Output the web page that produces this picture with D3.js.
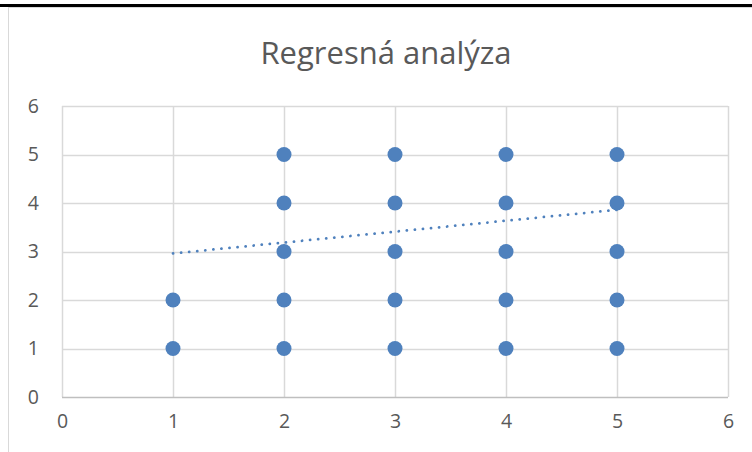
<!DOCTYPE html>
<html><head><meta charset="utf-8">
<script src="https://cdn.jsdelivr.net/npm/d3@7"></script>
<style>body{margin:0;background:#fff;overflow:hidden}svg{display:block}text{font-family:"Open Sans",Lato,sans-serif}</style>
</head><body>
<script>
const title = "Regresná analýza";
const xValues = [1,1, 2,2,2,2,2, 3,3,3,3,3, 4,4,4,4,4, 5,5,5,5,5];
const yValues = [1,2, 1,2,3,4,5, 1,2,3,4,5, 1,2,3,4,5, 1,2,3,4,5];
const trendX = [1, 5];
const trendY = [2.96, 3.86];
const xTicks = [0,1,2,3,4,5,6];
const yTicks = [0,1,2,3,4,5,6];

const W = 752, H = 452;
const svg = d3.select("body").append("svg").attr("width", W).attr("height", H);
const x = d3.scaleLinear().domain([0,6]).range([62,728]);
const y = d3.scaleLinear().domain([0,6]).range([397,106]);

// top black rule and chart frame
svg.append("rect").attr("x",0).attr("y",4).attr("width",W).attr("height",3).attr("fill","#000");
svg.append("line").attr("x1",8.5).attr("x2",8.5).attr("y1",7).attr("y2",H).attr("stroke","#d9d9d9").attr("stroke-width",1);
svg.append("line").attr("x1",8).attr("x2",W).attr("y1",7.5).attr("y2",7.5).attr("stroke","#d9d9d9").attr("stroke-width",1);

// gridlines
const g = svg.append("g");
g.selectAll(".vg").data(xTicks).join("line")
  .attr("x1",d=>Math.round(x(d))+0.5).attr("x2",d=>Math.round(x(d))+0.5)
  .attr("y1",y(6)).attr("y2",y(0)).attr("stroke","#d9d9d9").attr("stroke-width",1.5);
g.selectAll(".hg").data(yTicks).join("line")
  .attr("x1",x(0)).attr("x2",x(6))
  .attr("y1",d=>Math.round(y(d))+0.5).attr("y2",d=>Math.round(y(d))+0.5)
  .attr("stroke",d=>d===0?"#bfbfbf":"#d9d9d9").attr("stroke-width",1.5);

// axes labels
const xAxis = d3.axisBottom(x).tickValues(xTicks).tickFormat(d3.format("d")).tickSize(0).tickPadding(0);
svg.append("g").attr("transform","translate(0,414)").call(xAxis)
  .call(s=>{s.select(".domain").remove(); s.selectAll("text").attr("font-size",19.5).attr("fill","#595959").attr("dy","0.71em").attr("font-family","'Open Sans',sans-serif");});
const yAxis = d3.axisLeft(y).tickValues(yTicks).tickFormat(d3.format("d")).tickSize(0).tickPadding(0);
svg.append("g").attr("transform","translate(39,0)").call(yAxis)
  .call(s=>{s.select(".domain").remove(); s.selectAll("text").attr("font-size",19.5).attr("fill","#595959").attr("font-family","'Open Sans',sans-serif");});

// title
svg.append("text").attr("x",386).attr("y",64).attr("text-anchor","middle")
  .attr("font-size",31).attr("fill","#595959").text(title);

// points
svg.append("g").selectAll("circle").data(xValues.map((v,i)=>[v,yValues[i]])).join("circle")
  .attr("cx",d=>x(d[0])).attr("cy",d=>y(d[1])).attr("r",7.5).attr("fill","#4f81bd");

// trendline
const line = d3.line().x(d=>x(d[0])).y(d=>y(d[1]));
svg.append("path").datum(trendX.map((v,i)=>[v,trendY[i]])).attr("d",line)
  .attr("fill","none").attr("stroke","#4f81bd").attr("stroke-width",2.75)
  .attr("stroke-dasharray","0.1 8").attr("stroke-linecap","round");
</script>
</body></html>
